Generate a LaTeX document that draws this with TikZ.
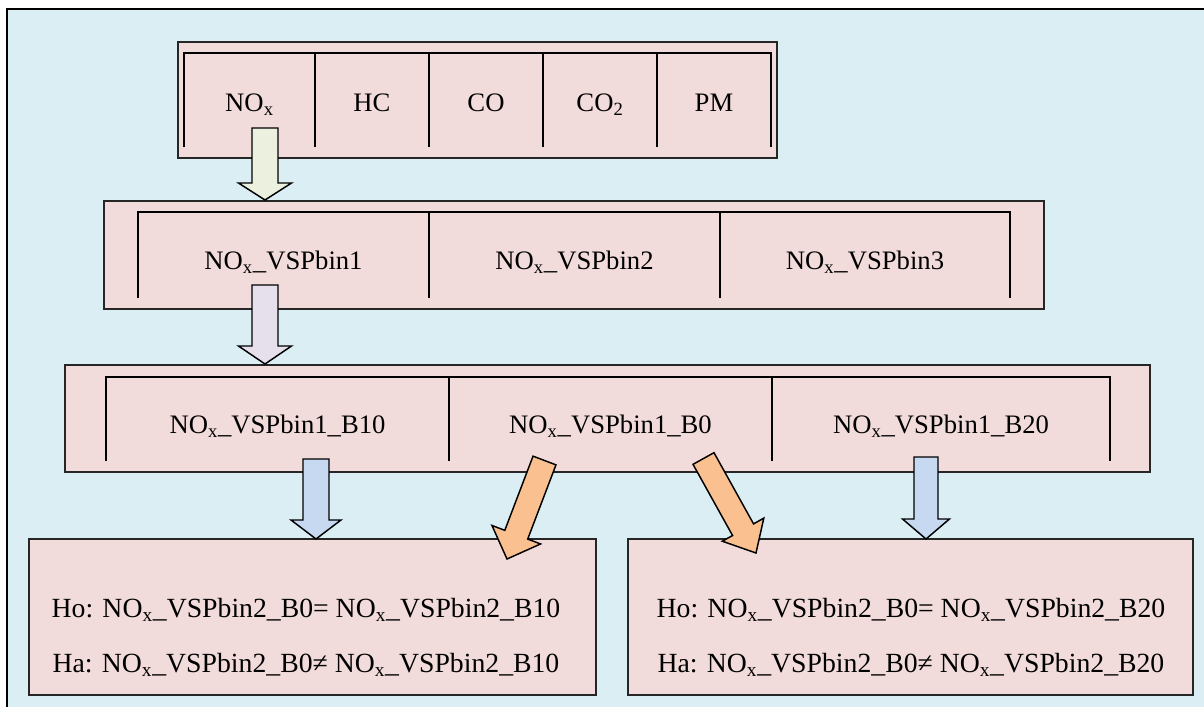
\documentclass[tikz,border=0pt]{standalone}
\usepackage{fontspec}
\setmainfont{Liberation Serif}
\usetikzlibrary{calc,fit}
\definecolor{bgblue}{HTML}{DAEEF3}
\definecolor{pinkfill}{HTML}{F2DCDB}
\definecolor{greenfill}{HTML}{EBF1DE}
\definecolor{purplefill}{HTML}{E5E0EC}
\definecolor{bluefill}{HTML}{C6D9F1}
\definecolor{orangefill}{HTML}{FAC090}
% #1 tail, #2 tip, #3 half shaft width, #4 half head width, #5 head length, #6 fill
\newcommand\blkarrow[6]{%
  \path ($(#2)!#5!(#1)$) coordinate (hb);
  \filldraw[arr, fill=#6]
    ($(#1)!#3!90:(#2)$) -- ($(hb)!#3!90:(#2)$) -- ($(hb)!#4!90:(#2)$) -- (#2)
    -- ($(hb)!#4!-90:(#2)$) -- ($(hb)!#3!-90:(#2)$) -- ($(#1)!#3!-90:(#2)$) -- cycle;
}
\begin{document}
\begin{tikzpicture}[x=0.75pt,y=-0.75pt,
  pinkbox/.style={draw=black!85, line width=1.1pt, fill=pinkfill, inner sep=0pt},
  bracket/.style={draw=black, line width=1.3pt},
  lbl/.style={font=\fontsize{20}{24}\selectfont, inner sep=0pt, anchor=base},
  hyp/.style={font=\fontsize{20.8}{24}\selectfont, inner sep=0pt, anchor=base},
  arr/.style={draw=black, line width=1.1pt, line join=miter},
]
\useasboundingbox (0,0) rectangle (1204,707);
% background frame
\draw[line width=1.6pt, fill=bgblue] (7,9) rectangle (1215,720);

% ---- top box ----
\node[pinkbox, fit={(178,42) (777,158)}] (b1) {};
\draw[bracket] (184,147) |- (771,53) -- (771,147);
\foreach \x in {315,429,543,657} \draw[bracket] (\x,53) -- (\x,147);
\node[lbl] (t11) at (249.5,111) {NO\textsubscript{x}};
\node[lbl] (t12) at (372,111) {HC};
\node[lbl] (t13) at (486,111) {CO};
\node[lbl] (t14) at (600,111) {CO\textsubscript{2}};
\node[lbl] (t15) at (714,111) {PM};

% ---- second box ----
\node[pinkbox, fit={(104,201) (1044,309)}] (b2) {};
\draw[bracket] (138,298) |- (1010,212) -- (1010,298);
\foreach \x in {429,720} \draw[bracket] (\x,212) -- (\x,298);
\node[lbl] (t21) at (283.5,269) {NO\textsubscript{x}\_VSPbin1};
\node[lbl] (t22) at (574.5,269) {NO\textsubscript{x}\_VSPbin2};
\node[lbl] (t23) at (865,269) {NO\textsubscript{x}\_VSPbin3};

% ---- third box ----
\node[pinkbox, fit={(65,365) (1150,472)}] (b3) {};
\draw[bracket] (106,461) |- (1110,377) -- (1110,461);
\foreach \x in {449,772} \draw[bracket] (\x,377) -- (\x,461);
\node[lbl] (t31) at (277.5,433) {NO\textsubscript{x}\_VSPbin1\_B10};
\node[lbl] (t32) at (610.5,433) {NO\textsubscript{x}\_VSPbin1\_B0};
\node[lbl] (t33) at (941,433) {NO\textsubscript{x}\_VSPbin1\_B20};

% ---- bottom boxes ----
\node[pinkbox, fit={(29,539) (596,695)}] (b4) {};
\node[pinkbox, fit={(628,539) (1193,695)}] (b5) {};
\node[hyp] (h1) at (306,617) {Ho: NO\textsubscript{x}\_VSPbin2\_B0= NO\textsubscript{x}\_VSPbin2\_B10};
\node[hyp] (h2) at (306,672) {Ha: NO\textsubscript{x}\_VSPbin2\_B0≠ NO\textsubscript{x}\_VSPbin2\_B10};
\node[hyp] (h3) at (911,617) {Ho: NO\textsubscript{x}\_VSPbin2\_B0= NO\textsubscript{x}\_VSPbin2\_B20};
\node[hyp] (h4) at (911,672) {Ha: NO\textsubscript{x}\_VSPbin2\_B0≠ NO\textsubscript{x}\_VSPbin2\_B20};

% ---- arrows ----
\coordinate (gT) at (265,128);   \coordinate (gH) at (265,200);
\blkarrow{gT}{gH}{9.75pt}{19.9pt}{12.75pt}{greenfill}
\coordinate (pT) at (265,285);   \coordinate (pH) at (265,364);
\blkarrow{pT}{pH}{9.75pt}{19.9pt}{13.5pt}{purplefill}
\coordinate (bT1) at (316,459);  \coordinate (bH1) at (316,539);
\blkarrow{bT1}{bH1}{9.75pt}{18.75pt}{14.25pt}{bluefill}
\coordinate (bT2) at (926,457);  \coordinate (bH2) at (926,539);
\blkarrow{bT2}{bH2}{9pt}{17.6pt}{15pt}{bluefill}
\coordinate (oT1) at (544.5,460.5); \coordinate (oH1) at (507,559);
\blkarrow{oT1}{oH1}{9.2pt}{19.5pt}{19.5pt}{orangefill}
\coordinate (oT2) at (703.5,458.5); \coordinate (oH2) at (756,553);
\blkarrow{oT2}{oH2}{9pt}{17.8pt}{20pt}{orangefill}
\end{tikzpicture}
\end{document}
